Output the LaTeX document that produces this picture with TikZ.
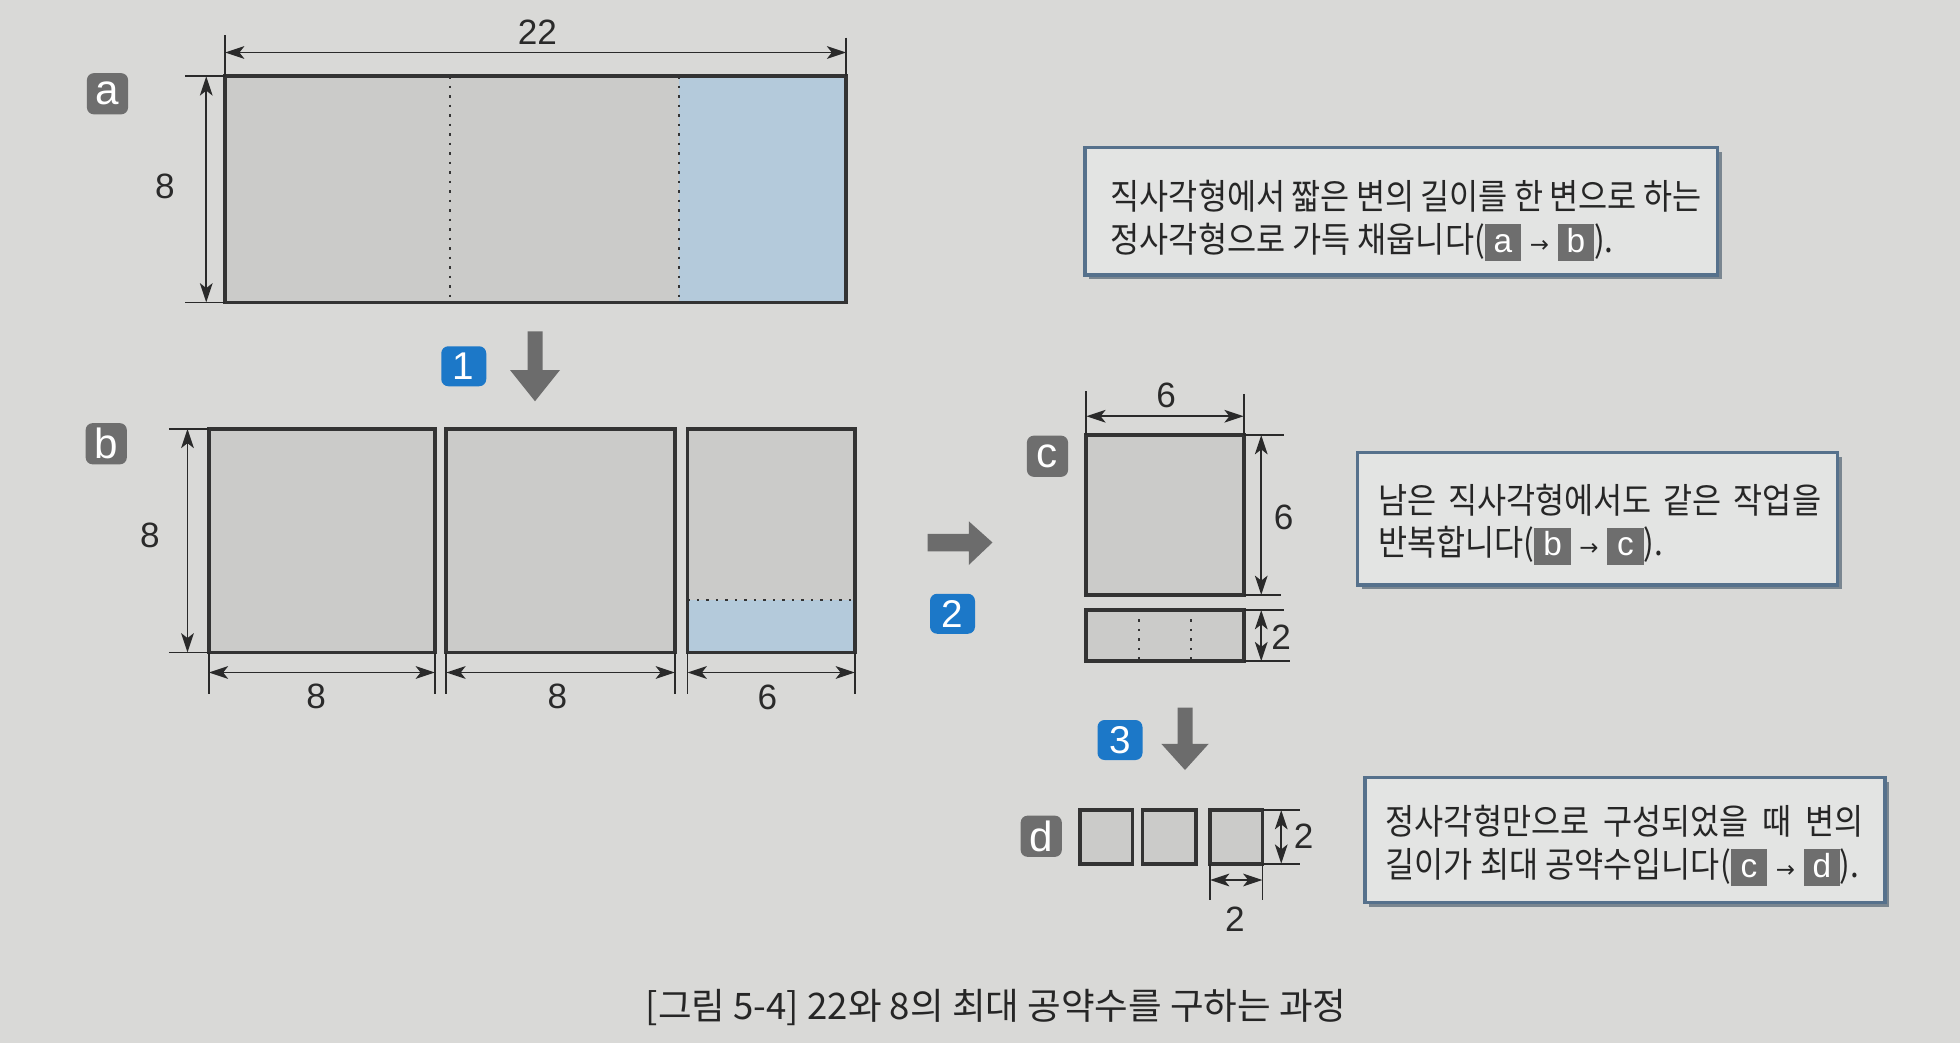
\documentclass[tikz,border=0pt]{standalone}
\usepackage{fontspec}
\setmainfont{Liberation Sans}
\newfontfamily\kr[FakeStretch=0.9]{Noto Sans CJK KR}
\newfontfamily\krcap{Noto Sans CJK KR}
\newfontfamily\dv{DejaVu Sans}
\usetikzlibrary{arrows.meta,shadows}
\definecolor{bg}{HTML}{D9D9D7}
\definecolor{rectfill}{HTML}{CBCBC9}
\definecolor{bluefill}{HTML}{B4CADB}
\definecolor{outl}{HTML}{333333}
\definecolor{dimc}{HTML}{2A2A2A}
\definecolor{badgegray}{HTML}{6E6E6E}
\definecolor{badgeblue}{HTML}{1C78C8}
\definecolor{arrowgray}{HTML}{6C6C6C}
\definecolor{boxborder}{HTML}{56718C}
\definecolor{boxfill}{HTML}{E3E4E3}
\definecolor{txt}{HTML}{262626}
\newcommand\ib[1]{{\setlength{\fboxsep}{0.9pt}\colorbox{badgegray}{\rule[-1.6pt]{0pt}{8.6pt}\makebox[8.5pt]{\textcolor{white}{\rmfamily\fontsize{9.5}{9.5}\selectfont #1}}}}}
\newcommand\arr{\hspace{2.5pt}{\dv\fontsize{6.5}{6.5}\selectfont →}\hspace{2.5pt}}
\tikzset{
  shp/.style={draw=outl, line width=1pt},
  dotl/.style={draw=outl, line width=0.7pt, dotted},
  extl/.style={draw=dimc, line width=0.5pt},
  dimarr/.style={draw=dimc, line width=0.5pt, {Stealth[length=5.5pt,width=3.6pt,inset=1.4pt]}-{Stealth[length=5.5pt,width=3.6pt,inset=1.4pt]}},
  dimlab/.style={text=dimc, font=\fontsize{10}{10}\selectfont, inner sep=0pt},
  gbadge/.style={fill=badgegray, rounded corners=2pt, text=white, font=\fontsize{12}{12}\selectfont, minimum width=33*0.0125cm, minimum height=33*0.0125cm, inner sep=0pt},
  bbadge/.style={fill=badgeblue, rounded corners=2pt, text=white, font=\fontsize{11}{11}\selectfont, minimum width=36*0.0125cm, minimum height=32*0.0125cm, inner sep=0pt},
  tbox/.style={draw=boxborder, line width=0.9pt, fill=boxfill, inner sep=0pt,
     drop shadow={shadow xshift=1.2pt, shadow yshift=-1.2pt, fill=boxborder!70!black, opacity=0.6}},
  ttext/.style={anchor=west, text=txt, align=left, inner sep=0pt, font=\kr\fontsize{10}{12.1}\selectfont},
}
\begin{document}
\begin{tikzpicture}[x=0.0125cm, y=-0.0125cm]
\useasboundingbox (0,0) rectangle (1568,834);
\fill[bg] (0,0) rectangle (1568,834);

% ---------- a ----------
\node[gbadge] (ba) at (86,75) {a};
\fill[rectfill] (180,61) rectangle (543,242);
\fill[bluefill] (543,61) rectangle (677,242);
\draw[dotl] (360,61) -- (360,242);
\draw[dotl] (543,61) -- (543,242);
\draw[shp] (180,61) rectangle (677,242);
\draw[extl] (180,28) -- (180,61);
\draw[extl] (677,30) -- (677,61);
\draw[dimarr] (180,42) -- (677,42);
\node[dimlab] (l22) at (430,26) {22};
\draw[extl] (148,61) -- (180,61);
\draw[extl] (148,242) -- (180,242);
\draw[dimarr] (165,61) -- (165,242);
\node[dimlab] (la8) at (132,149) {8};

% ---------- step 1 ----------
\node[bbadge] (s1) at (371,293) {1};
\fill[arrowgray] (422,265) -- (434,265) -- (434,296) -- (448,296) -- (428,321) -- (408,296) -- (422,296) -- cycle;

% ---------- b ----------
\node[gbadge] (bb) at (85,355) {b};
\fill[rectfill] (167,343) rectangle (348,522);
\fill[rectfill] (357,343) rectangle (540,522);
\fill[rectfill] (550,343) rectangle (684,480);
\fill[bluefill] (550,480) rectangle (684,522);
\draw[dotl] (550,480) -- (684,480);
\draw[shp] (167,343) rectangle (348,522);
\draw[shp] (357,343) rectangle (540,522);
\draw[shp] (550,343) rectangle (684,522);
\draw[extl] (135,343) -- (167,343);
\draw[extl] (135,522) -- (167,522);
\draw[dimarr] (150,343) -- (150,522);
\node[dimlab] (lb8) at (120,428) {8};
\foreach \xx in {167,348,357,540,550,684} \draw[extl] (\xx,522) -- (\xx,555);
\draw[dimarr] (167,538) -- (348,538);
\draw[dimarr] (357,538) -- (540,538);
\draw[dimarr] (550,538) -- (684,538);
\node[dimlab] (lb81) at (253,557) {8};
\node[dimlab] (lb82) at (446,557) {8};
\node[dimlab] (lb6) at (614,558) {6};

% ---------- step 2 ----------
\fill[arrowgray] (742,427) -- (775,427) -- (775,417) -- (794,434) -- (775,452) -- (775,441) -- (742,441) -- cycle;
\node[bbadge] (s2) at (762,491) {2};

% ---------- c ----------
\node[gbadge] (bc) at (838,365) {c};
\fill[rectfill] (869,348) rectangle (995,476);
\draw[shp] (869,348) rectangle (995,476);
\fill[rectfill] (869,488) rectangle (995,529);
\draw[dotl] (911,488) -- (911,529);
\draw[dotl] (953,488) -- (953,529);
\draw[shp] (869,488) rectangle (995,529);
\draw[extl] (869,313) -- (869,348);
\draw[extl] (995,315) -- (995,348);
\draw[dimarr] (869,333) -- (995,333);
\node[dimlab] (lc6a) at (933,316) {6};
\draw[extl] (995,348) -- (1027,348);
\draw[extl] (995,476) -- (1025,476);
\draw[dimarr] (1009,348) -- (1009,476);
\node[dimlab] (lc6b) at (1027,414) {6};
\draw[extl] (995,488) -- (1027,488);
\draw[extl] (995,529) -- (1032,529);
\draw[dimarr] (1009,488) -- (1009,529);
\node[dimlab] (lc2) at (1025,510) {2};

% ---------- step 3 ----------
\node[bbadge] (s3) at (896,592) {3};
\fill[arrowgray] (942,566) -- (954,566) -- (954,595) -- (967,595) -- (948,616) -- (929,595) -- (942,595) -- cycle;

% ---------- d ----------
\node[gbadge] (bd) at (833,669) {d};
\foreach \xa/\xb in {864/906,914/957,968/1010}{
  \fill[rectfill] (\xa,648) rectangle (\xb,691);
  \draw[shp] (\xa,648) rectangle (\xb,691);
}
\draw[extl] (1010,648) -- (1040,648);
\draw[extl] (1010,691) -- (1040,691);
\draw[dimarr] (1025,648) -- (1025,691);
\node[dimlab] (ld2a) at (1043,669) {2};
\draw[extl] (968,691) -- (968,720);
\draw[extl] (1010,691) -- (1010,720);
\draw[dimarr] (968,704) -- (1010,704);
\node[dimlab] (ld2b) at (988,735) {2};

% ---------- text boxes ----------
\node[tbox, minimum width=506*0.0125cm, minimum height=102*0.0125cm] (box1) at (1121,169) {};
\node[ttext] (t1) at (888,176.5)
  {\makebox[168pt][s]{직사각형에서 짧은 변의 길이를 한 변으로 하는}\\정사각형으로 가득 채웁니다(\ib{a}\arr\ib{b}).};
\node[tbox, minimum width=384*0.0125cm, minimum height=106*0.0125cm] (box2) at (1278,415) {};
\node[ttext] (t2) at (1102,419.5)
  {\makebox[126pt][s]{남은 직사각형에서도 같은 작업을}\\반복합니다(\ib{b}\arr\ib{c}).};
\node[tbox, minimum width=416*0.0125cm, minimum height=100*0.0125cm] (box3) at (1300,672) {};
\node[ttext] (t3) at (1108,676.5)
  {\makebox[136pt][s]{정사각형만으로 구성되었을 때 변의}\\길이가 최대 공약수입니다(\ib{c}\arr\ib{d}).};

% ---------- caption ----------
\node[text=txt, font=\krcap\fontsize{10.4}{12}\selectfont, inner sep=0pt] (cap) at (797,806)
  {[그림 5-4] 22와 8의 최대 공약수를 구하는 과정};
\end{tikzpicture}
\end{document}
